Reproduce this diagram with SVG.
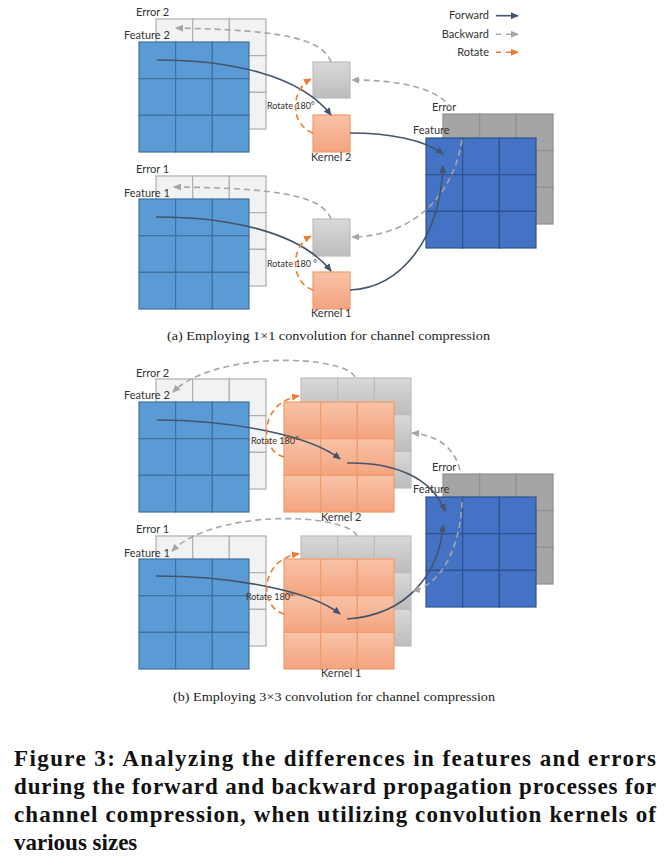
<svg xmlns="http://www.w3.org/2000/svg" xmlns:xlink="http://www.w3.org/1999/xlink" width="671" height="868" viewBox="0 0 671 868">
<style>
.lbl{font-family:Lato,"Open Sans","Liberation Sans",sans-serif;font-size:11px;fill:#333}
.rot{font-family:Lato,"Open Sans","Liberation Sans",sans-serif;font-size:9px;fill:#333}
.sub{font-family:"Liberation Serif",serif;font-size:13px;fill:#222}
.cap{font-family:"Liberation Serif",serif;font-size:23px;font-weight:bold;fill:#111}
.feat{fill:#5b9bd5;stroke:#41719c;stroke-width:1.2}
.err{fill:#f2f2f2;stroke:#afafaf;stroke-width:1.2}
.rfeat{fill:#4472c4;stroke:#2f528f;stroke-width:1.2}
.rerr{fill:#a5a5a5;stroke:#8f8f8f;stroke-width:1.2}
.kgray{fill:url(#gGray);stroke:#bdbdbd;stroke-width:1.2}
.kor{fill:url(#gOr);stroke:#f29b6a;stroke-width:1.2}
.fwd{fill:none;stroke:#44546a;stroke-width:1.6;marker-end:url(#mF)}
.bwd{fill:none;stroke:#a6a6a6;stroke-width:1.6;stroke-dasharray:6 4;marker-end:url(#mB)}
.rotl{fill:none;stroke:#ed7d31;stroke-width:1.6;stroke-dasharray:6 4;marker-end:url(#mR)}
</style>
<defs>
<linearGradient id="gGray" x1="0" y1="0" x2="0" y2="1"><stop offset="0" stop-color="#d9d9d9"/><stop offset="1" stop-color="#bcbcbc"/></linearGradient>
<linearGradient id="gOr" x1="0" y1="0" x2="0" y2="1"><stop offset="0" stop-color="#f8c3a8"/><stop offset="1" stop-color="#f4a47f"/></linearGradient>
<marker id="mF" markerWidth="8" markerHeight="7" refX="7" refY="3.5" orient="auto" markerUnits="userSpaceOnUse"><path d="M0,0 L8,3.5 L0,7 z" fill="#44546a"/></marker>
<marker id="mB" markerWidth="8" markerHeight="7" refX="7" refY="3.5" orient="auto" markerUnits="userSpaceOnUse"><path d="M0,0 L8,3.5 L0,7 z" fill="#a6a6a6"/></marker>
<marker id="mR" markerWidth="8" markerHeight="7" refX="7" refY="3.5" orient="auto" markerUnits="userSpaceOnUse"><path d="M0,0 L8,3.5 L0,7 z" fill="#ed7d31"/></marker>
<g id="g3">
<rect x="0" y="0" width="36.67" height="36.67"/><rect x="36.67" y="0" width="36.67" height="36.67"/><rect x="73.33" y="0" width="36.67" height="36.67"/>
<rect x="0" y="36.67" width="36.67" height="36.67"/><rect x="36.67" y="36.67" width="36.67" height="36.67"/><rect x="73.33" y="36.67" width="36.67" height="36.67"/>
<rect x="0" y="73.33" width="36.67" height="36.67"/><rect x="36.67" y="73.33" width="36.67" height="36.67"/><rect x="73.33" y="73.33" width="36.67" height="36.67"/>
</g>
</defs>
<rect width="671" height="868" fill="#fff"/>

<g id="legend">
<text class="lbl" x="489" y="19" text-anchor="end">Forward</text>
<text class="lbl" x="489" y="38" text-anchor="end">Backward</text>
<text class="lbl" x="489" y="56" text-anchor="end">Rotate</text>
<path class="fwd" d="M496,15.7 L518,15.7"/>
<path class="bwd" style="stroke-dasharray:5 5" d="M496,34.3 L518,34.3"/>
<path class="rotl" style="stroke-dasharray:5 5" d="M496,52.3 L518,52.3"/>
</g>

<!-- Part (a) -->
<g id="a-error2"><use xlink:href="#g3" href="#g3" x="156" y="19" class="err"/><text class="lbl" x="136" y="16">Error 2</text></g>
<g id="a-feature2"><use xlink:href="#g3" href="#g3" x="139" y="42" class="feat"/><text class="lbl" x="124" y="39">Feature 2</text></g>
<g id="a-error1"><use xlink:href="#g3" href="#g3" x="156" y="176" class="err"/><text class="lbl" x="136" y="173">Error 1</text></g>
<g id="a-feature1"><use xlink:href="#g3" href="#g3" x="139" y="199" class="feat"/><text class="lbl" x="124" y="197">Feature 1</text></g>
<g id="a-kerr2"><rect class="kgray" x="313" y="62" width="37" height="36"/></g>
<g id="a-kernel2"><rect class="kor" x="313" y="115" width="37" height="37"/><text class="lbl" x="311" y="161">Kernel 2</text></g>
<g id="a-kerr1"><rect class="kgray" x="313" y="219" width="37" height="37"/></g>
<g id="a-kernel1"><rect class="kor" x="313" y="272" width="37" height="37"/><text class="lbl" x="311" y="317">Kernel 1</text></g>
<g id="a-rerror"><use xlink:href="#g3" href="#g3" x="443" y="114" class="rerr"/><text class="lbl" x="432" y="111">Error</text></g>
<g id="a-rfeature"><use xlink:href="#g3" href="#g3" x="426" y="138" class="rfeat"/><text class="lbl" x="413" y="134">Feature</text></g>
<text class="rot" x="267" y="109">Rotate 180°</text>
<text class="rot" x="267" y="267">Rotate 180 °</text>

<!-- Part (b) -->
<g id="b-error2"><use xlink:href="#g3" href="#g3" x="156" y="379" class="err"/><text class="lbl" x="136" y="377">Error 2</text></g>
<g id="b-feature2"><use xlink:href="#g3" href="#g3" x="139" y="402" class="feat"/><text class="lbl" x="124" y="399">Feature 2</text></g>
<g id="b-kerr2"><use xlink:href="#g3" href="#g3" x="301" y="378" class="kgray"/></g>
<g id="b-kernel2"><use xlink:href="#g3" href="#g3" x="284" y="402" class="kor"/><text class="lbl" x="321" y="521">Kernel 2</text></g>
<g id="b-error1"><use xlink:href="#g3" href="#g3" x="156" y="536" class="err"/><text class="lbl" x="136" y="533">Error 1</text></g>
<g id="b-feature1"><use xlink:href="#g3" href="#g3" x="139" y="559" class="feat"/><text class="lbl" x="124" y="557">Feature 1</text></g>
<g id="b-kerr1"><use xlink:href="#g3" href="#g3" x="301" y="536" class="kgray"/></g>
<g id="b-kernel1"><use xlink:href="#g3" href="#g3" x="284" y="559" class="kor"/><text class="lbl" x="321" y="677">Kernel 1</text></g>
<g id="b-rerror"><use xlink:href="#g3" href="#g3" x="443" y="474" class="rerr"/><text class="lbl" x="432" y="471">Error</text></g>
<g id="b-rfeature"><use xlink:href="#g3" href="#g3" x="426" y="497" class="rfeat"/><text class="lbl" x="413" y="493">Feature</text></g>
<text class="rot" x="251" y="444">Rotate 180°</text>
<text class="rot" x="246" y="600">Rotate 180°</text>

<g id="connectors">
<!-- (a) -->
<path class="fwd" d="M157,60 C230,60 300,75 331,115"/>
<path class="bwd" d="M331,62 C322,38 280,30 176,28"/>
<path class="bwd" d="M452,109 C438,88 400,80 352,80"/>
<path class="rotl" d="M313,133 C290,125 290,90 311,79"/>
<path class="fwd" d="M350,133 C390,133 425,140 443,154"/>
<path class="fwd" d="M156,217 C230,217 300,232 331,271"/>
<path class="bwd" d="M331,219 C322,196 280,188 174,187"/>
<path class="bwd" d="M462,140 C452,200 410,236 352,237"/>
<path class="rotl" d="M313,290 C290,282 290,247 311,236"/>
<path class="fwd" d="M350,290 C400,288 440,240 443,166"/>
<!-- (b) -->
<path class="fwd" d="M157,420 C230,420 310,435 340,459"/>
<path class="fwd" d="M347,463 C395,462 432,478 445,511"/>
<path class="bwd" d="M355,377 C345,355 215,350 173,392"/>
<path class="bwd" d="M460,470 C455,450 440,435 412,433"/>
<path class="rotl" d="M284,457 C258,450 260,402 299,396"/>
<path class="fwd" d="M156,576 C230,576 310,590 340,614"/>
<path class="fwd" d="M347,619 C410,615 440,570 443,525"/>
<path class="bwd" d="M357,536 C347,513 215,508 172,551"/>
<path class="bwd" d="M462,502 C460,550 440,585 413,591"/>
<path class="rotl" d="M284,614 C258,607 260,559 299,554"/>
</g>

<text class="sub" x="167" y="340" textLength="323" lengthAdjust="spacingAndGlyphs">(a) Employing 1×1 convolution for channel compression</text>
<text class="sub" x="173" y="701" textLength="322" lengthAdjust="spacingAndGlyphs">(b) Employing 3×3 convolution for channel compression</text>

<g id="caption">
<text class="cap" x="14" y="766" textLength="642" lengthAdjust="spacing">Figure 3: Analyzing the differences in features and errors</text>
<text class="cap" x="14" y="794" textLength="642" lengthAdjust="spacing">during the forward and backward propagation processes for</text>
<text class="cap" x="14" y="822" textLength="642" lengthAdjust="spacing">channel compression, when utilizing convolution kernels of</text>
<text class="cap" x="14" y="850">various sizes</text>
</g>
</svg>
